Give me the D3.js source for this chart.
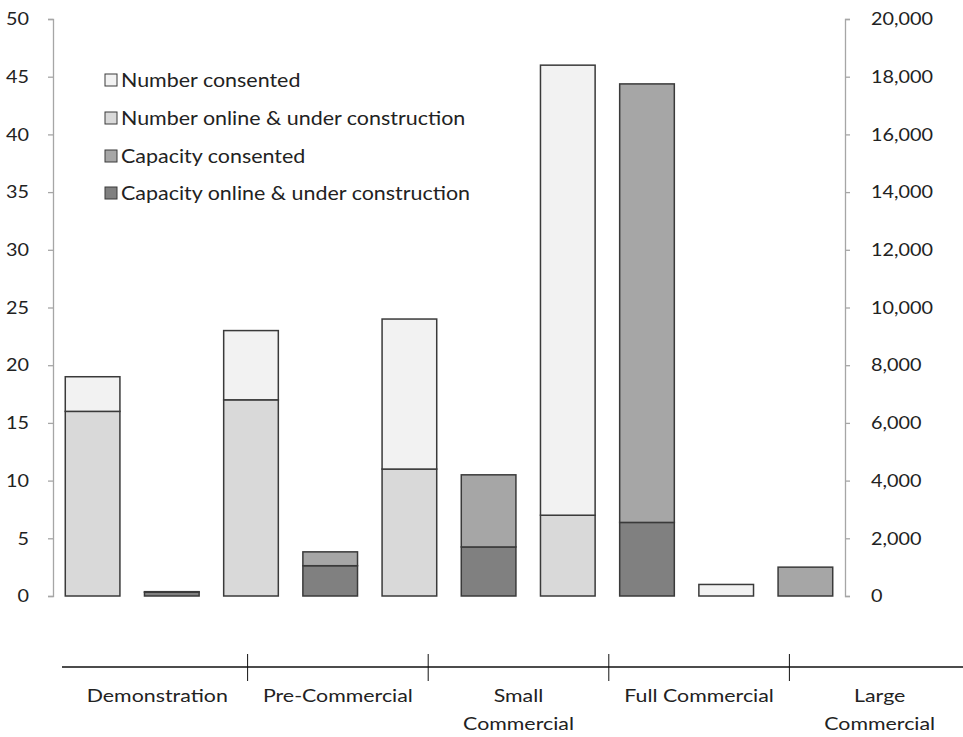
<!DOCTYPE html>
<html>
<head>
<meta charset="utf-8">
<script src="https://cdn.jsdelivr.net/npm/d3@7"></script>
<style>
  html, body { margin: 0; padding: 0; background: #fff; }
  svg { display: block; }
  text { font-family: Lato, "Open Sans", sans-serif; fill: #222; }
</style>
</head>
<body>
<svg id="chart" width="963" height="737"></svg>
<script>
// ---- data ----
const categories = ["Demonstration", "Pre-Commercial", "Small Commercial", "Full Commercial", "Large Commercial"];
const numberOnline = [16, 17, 11, 7, 0];
const numberConsented = [3, 6, 13, 39, 1];
const capacityOnline = [130, 1050, 1700, 2550, 0];
const capacityConsented = [20, 480, 2500, 15200, 1000];
const leftTicks = [0, 5, 10, 15, 20, 25, 30, 35, 40, 45, 50];
const rightTicks = [0, 2000, 4000, 6000, 8000, 10000, 12000, 14000, 16000, 18000, 20000];
const seriesNames = ["Number consented", "Number online & under construction", "Capacity consented", "Capacity online & under construction"];
const seriesColors = ["#f2f2f2", "#d9d9d9", "#a6a6a6", "#808080"];

const svg = d3.select("#chart");
const plotLeft = 53, plotRight = 845, plotTop = 19, plotBottom = 596;

const yLeft = d3.scaleLinear().domain([0, 50]).range([plotBottom, plotTop]);
const yRight = d3.scaleLinear().domain([0, 20000]).range([plotBottom, plotTop]);

// slots: for each category, a number bar and a capacity bar
const slots = [];
categories.forEach((c, i) => {
  slots.push({ key: c + "|n", cat: i, kind: "n" });
  slots.push({ key: c + "|c", cat: i, kind: "c" });
});
const x = d3.scaleBand().domain(slots.map(s => s.key)).range([plotLeft, plotRight])
  .paddingInner(0.31).paddingOuter(0.155);

// axes
const axisColor = "#a6a6a6";
const gL = svg.append("g").attr("transform", `translate(${plotLeft},0)`)
  .call(d3.axisLeft(yLeft).tickValues(leftTicks).tickSize(5).tickPadding(19).tickFormat(d3.format("d")));
const gR = svg.append("g").attr("transform", `translate(${plotRight},0)`)
  .call(d3.axisRight(yRight).tickValues(rightTicks).tickSize(5).tickPadding(21).tickFormat(d3.format(",")));
[gL, gR].forEach(g => {
  g.selectAll("path, line").attr("stroke", axisColor).attr("stroke-width", 1.3);
  g.selectAll("text").style("font-size", "18px").style("font-family", "Lato, sans-serif").attr("fill", "#222")
    .each(function() {
      const t = d3.select(this);
      const tx = +t.attr("x");
      t.attr("x", 0).attr("transform", `translate(${tx},0) scale(1.1,1)`);
    });
});

// stacked bars
const segs = [];
slots.forEach(s => {
  const i = s.cat;
  if (s.kind === "n") {
    segs.push({ key: s.key, y0: 0, y1: numberOnline[i], color: seriesColors[1], scale: yLeft });
    segs.push({ key: s.key, y0: numberOnline[i], y1: numberOnline[i] + numberConsented[i], color: seriesColors[0], scale: yLeft });
  } else {
    segs.push({ key: s.key, y0: 0, y1: capacityOnline[i], color: seriesColors[3], scale: yRight });
    segs.push({ key: s.key, y0: capacityOnline[i], y1: capacityOnline[i] + capacityConsented[i], color: seriesColors[2], scale: yRight });
  }
});
svg.append("g").selectAll("rect").data(segs.filter(d => d.y1 > d.y0)).join("rect")
  .attr("x", d => x(d.key))
  .attr("width", x.bandwidth())
  .attr("y", d => d.scale(d.y1))
  .attr("height", d => d.scale(d.y0) - d.scale(d.y1))
  .attr("fill", d => d.color)
  .attr("stroke", "#3a3a3a")
  .attr("stroke-width", 1.5);

// legend
const legend = svg.append("g");
const legendY = [80, 118, 156, 193];
seriesNames.forEach((name, k) => {
  legend.append("rect").attr("x", 105).attr("y", legendY[k] - 6).attr("width", 12).attr("height", 12)
    .attr("fill", seriesColors[k]).attr("stroke", "#3a3a3a").attr("stroke-width", 1);
  legend.append("text").attr("transform", `translate(121,${legendY[k]}) scale(1.1,1)`).attr("dy", "0.35em")
    .style("font-size", "19.5px").text(name);
});

// category axis at the bottom
const xc = d3.scaleBand().domain(categories).range([67, 970]);
const axisY = 667;
const gc = svg.append("g");
gc.append("line").attr("x1", 62).attr("x2", 963).attr("y1", axisY).attr("y2", axisY)
  .attr("stroke", "#111").attr("stroke-width", 1.3);
gc.selectAll("line.tick").data(categories.slice(1)).join("line").attr("class", "tick")
  .attr("x1", d => xc(d)).attr("x2", d => xc(d))
  .attr("y1", axisY - 13).attr("y2", axisY + 14)
  .attr("stroke", "#111").attr("stroke-width", 1);
const labels = gc.selectAll("text").data(categories).join("text")
  .attr("text-anchor", "middle")
  .attr("transform", d => `translate(${xc(d) + xc.bandwidth() / 2},${702}) scale(1.22,1)`)
  .style("font-size", "17.5px");
labels.each(function(d) {
  const t = d3.select(this);
  const parts = (d === "Small Commercial" || d === "Large Commercial") ? d.split(" ") : [d];
  parts.forEach((p, k) => t.append("tspan").attr("x", 0).attr("dy", k === 0 ? 0 : 28).text(p));
});
</script>
</body>
</html>
